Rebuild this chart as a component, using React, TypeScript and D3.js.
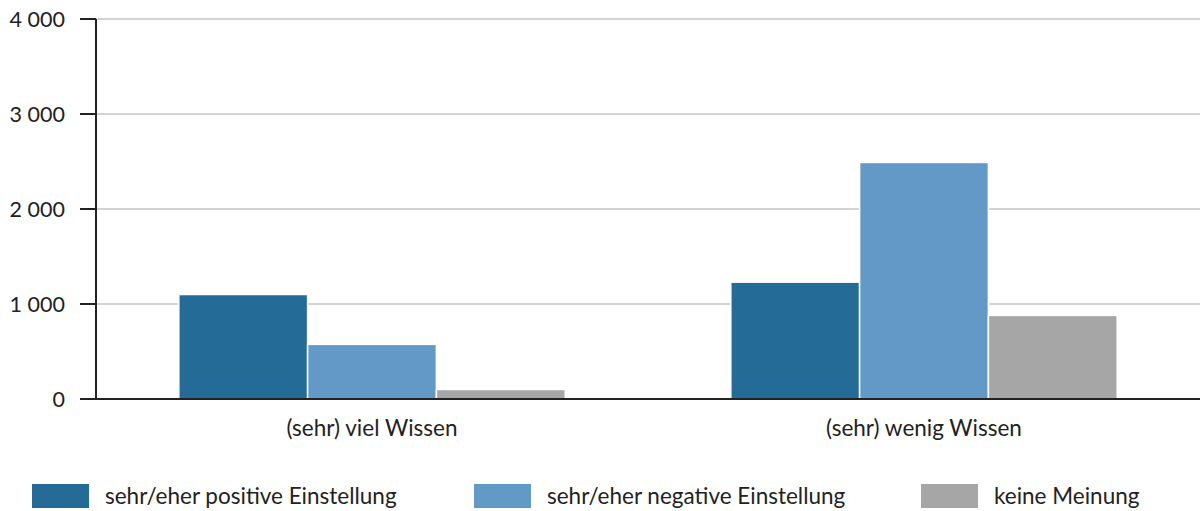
import React from 'react';
import * as d3 from 'd3';

// values
const categories = ['(sehr) viel Wissen', '(sehr) wenig Wissen'];
const seriesNames = [
  'sehr/eher positive Einstellung',
  'sehr/eher negative Einstellung',
  'keine Meinung',
];
const positive = [1100, 1230];
const negative = [575, 2490];
const noOpinion = [100, 880];
const yTicks = [0, 1000, 2000, 3000, 4000];
const colors = ['#256b98', '#6299c6', '#a6a6a6'];

const width = 1200;
const height = 511;
const margin = { top: 19, right: 0, bottom: 112, left: 96 };
const font = 'Lato, "Open Sans", sans-serif';

const fmt = (v: number) => d3.format(',')(v).replace(/,/g, ' ');

export default function App() {
  const series = [positive, negative, noOpinion];

  const x0 = d3
    .scaleBand<string>()
    .domain(categories)
    .range([margin.left, width - margin.right])
    .paddingInner(0.3)
    .paddingOuter(0.15);

  const x1 = d3
    .scaleBand<number>()
    .domain(d3.range(series.length))
    .range([0, x0.bandwidth()]);

  const y = d3
    .scaleLinear()
    .domain([0, 4000])
    .range([height - margin.bottom, margin.top]);

  const legendX = [32, 474, 921];

  return (
    <svg
      width={width}
      height={height}
      style={{ position: 'absolute', left: 0, top: 0, background: '#fff' }}
    >
      {/* grid lines */}
      {yTicks.map((t) => (
        <line
          key={'g' + t}
          x1={margin.left}
          x2={width}
          y1={y(t)}
          y2={y(t)}
          stroke="#d3d3d3"
          strokeWidth={2}
        />
      ))}

      {/* bars */}
      {categories.map((c, i) => (
        <g key={c} transform={`translate(${x0(c)},0)`}>
          {series.map((s, j) => (
            <rect
              key={j}
              x={x1(j)}
              y={y(s[i])}
              width={x1.bandwidth()}
              height={y(0) - y(s[i])}
              fill={colors[j]}
              stroke="#fff"
              strokeWidth={1.5}
            />
          ))}
        </g>
      ))}

      {/* axes */}
      <line
        x1={margin.left}
        x2={margin.left}
        y1={y(4000)}
        y2={y(0)}
        stroke="#222"
        strokeWidth={2}
      />
      <line
        x1={margin.left - 16}
        x2={width}
        y1={y(0)}
        y2={y(0)}
        stroke="#222"
        strokeWidth={2}
      />
      {yTicks.map((t) => (
        <g key={'t' + t}>
          <line
            x1={margin.left - 16}
            x2={margin.left}
            y1={y(t)}
            y2={y(t)}
            stroke="#222"
            strokeWidth={2}
          />
          <text
            x={65}
            y={y(t)}
            dy="0.35em"
            textAnchor="end"
            fontFamily={font}
            fontSize={21.5}
            fill="#222"
          >
            {fmt(t)}
          </text>
        </g>
      ))}

      {categories.map((c) => (
        <text
          key={'c' + c}
          x={(x0(c) as number) + x0.bandwidth() / 2}
          y={428}
          dy="0.35em"
          textAnchor="middle"
          fontFamily={font}
          fontSize={22.5}
          fill="#222"
        >
          {c}
        </text>
      ))}

      {/* legend */}
      {seriesNames.map((n, j) => (
        <g key={n}>
          <rect x={legendX[j]} y={484} width={57} height={24} fill={colors[j]} />
          <text
            x={legendX[j] + 73}
            y={496}
            dy="0.35em"
            fontFamily={font}
            fontSize={22.5}
            fill="#222"
          >
            {n}
          </text>
        </g>
      ))}
    </svg>
  );
}
